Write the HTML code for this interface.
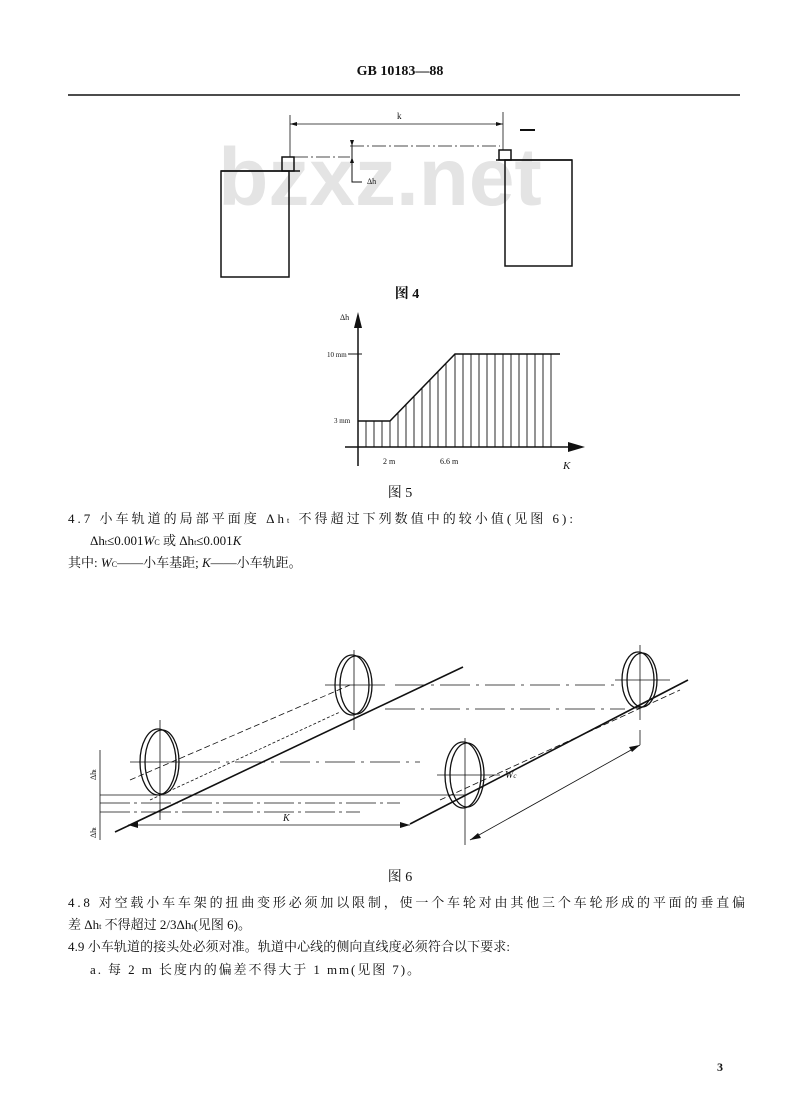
<!DOCTYPE html>
<html><head><meta charset="utf-8"><style>
html,body{margin:0;padding:0;background:#fff}
svg{display:block}
text{font-family:"Liberation Serif","Noto Serif CJK SC","Noto Sans CJK SC",serif;fill:#111}
</style></head><body>
<svg width="800" height="1098" viewBox="0 0 800 1098" xmlns="http://www.w3.org/2000/svg">
<rect width="800" height="1098" fill="#fff"/>
<text x="380" y="205" text-anchor="middle" font-weight="bold" font-size="82" style="fill:#e4e4e4;font-family:'Liberation Sans',sans-serif">bzxz.net</text>
<text x="400" y="75" text-anchor="middle" font-weight="bold" font-size="14">GB 10183—88</text>
<line x1="68" y1="95" x2="740" y2="95" stroke="#111" stroke-width="1.5"/>

<g stroke="#111" fill="none" stroke-width="1.5">
<rect x="221" y="171" width="68" height="106"/>
<rect x="282" y="157" width="12" height="14"/>
<line x1="221" y1="171" x2="300" y2="171"/>
<rect x="505" y="160" width="67" height="106"/>
<rect x="499" y="150" width="12" height="10"/>
<line x1="496" y1="160" x2="572" y2="160"/>
<line x1="290" y1="115" x2="290" y2="157" stroke-width="0.8"/>
<line x1="503" y1="112" x2="503" y2="150" stroke-width="0.8"/>
<line x1="290" y1="124" x2="503" y2="124" stroke-width="0.8"/>
<line x1="520" y1="130" x2="535" y2="130" stroke-width="2"/>
<line x1="294" y1="157" x2="350" y2="157" stroke-width="0.8" stroke-dasharray="14,3,2,3"/>
<line x1="350" y1="146" x2="500" y2="146" stroke-width="0.8" stroke-dasharray="14,3,2,3"/>
<polyline points="352,140 352,182 362,182" stroke-width="1"/>
</g>
<polygon points="290,124 297,122 297,126" fill="#111"/>
<polygon points="503,124 496,122 496,126" fill="#111"/>
<polygon points="352,146 350,140 354,140" fill="#111"/>
<polygon points="352,157 350,163 354,163" fill="#111"/>
<text x="397" y="119" font-size="9">k</text>
<text x="367" y="184" font-size="8">Δh</text>
<text x="407" y="298" text-anchor="middle" font-weight="bold" font-size="14">图 4</text>

<g stroke="#111" fill="none">
<line x1="358" y1="318" x2="358" y2="466" stroke-width="1.5"/>
<line x1="345" y1="447" x2="575" y2="447" stroke-width="1.5"/>
<polyline points="358,421 390,421 455,354 560,354" stroke-width="1.5"/>
<line x1="348" y1="354" x2="362" y2="354" stroke-width="1"/>
<g stroke-width="0.9">
<line x1="366" y1="421" x2="366" y2="447"/><line x1="374" y1="421" x2="374" y2="447"/><line x1="382" y1="421" x2="382" y2="447"/><line x1="390" y1="421" x2="390" y2="447"/>
<line x1="398" y1="413" x2="398" y2="447"/><line x1="406" y1="404" x2="406" y2="447"/><line x1="414" y1="396" x2="414" y2="447"/><line x1="422" y1="388" x2="422" y2="447"/>
<line x1="430" y1="380" x2="430" y2="447"/><line x1="438" y1="371" x2="438" y2="447"/><line x1="446" y1="363" x2="446" y2="447"/><line x1="455" y1="354" x2="455" y2="447"/>
<line x1="463" y1="354" x2="463" y2="447"/><line x1="471" y1="354" x2="471" y2="447"/><line x1="479" y1="354" x2="479" y2="447"/><line x1="487" y1="354" x2="487" y2="447"/>
<line x1="495" y1="354" x2="495" y2="447"/><line x1="503" y1="354" x2="503" y2="447"/><line x1="511" y1="354" x2="511" y2="447"/><line x1="519" y1="354" x2="519" y2="447"/>
<line x1="527" y1="354" x2="527" y2="447"/><line x1="535" y1="354" x2="535" y2="447"/><line x1="543" y1="354" x2="543" y2="447"/><line x1="551" y1="354" x2="551" y2="447"/>
</g>
</g>
<polygon points="358,312 354,328 362,328" fill="#111"/>
<polygon points="585,447 568,442 568,452" fill="#111"/>
<text x="340" y="320" font-size="8">Δh</text>
<text x="327" y="357" font-size="7">10 mm</text>
<text x="334" y="423" font-size="7">3 mm</text>
<text x="383" y="464" font-size="8">2 m</text>
<text x="440" y="464" font-size="8">6.6 m</text>
<text x="563" y="469" font-size="11" font-style="italic">K</text>
<text x="400" y="497" text-anchor="middle" font-size="14">图 5</text>

<text x="68" y="523" font-size="13" textLength="505">4.7  小车轨道的局部平面度 Δh<tspan font-size="8">t</tspan> 不得超过下列数值中的较小值(见图 6):</text>
<text x="90" y="545" font-size="13">Δh<tspan font-size="8">t</tspan>≤0.001<tspan font-style="italic">W</tspan><tspan font-size="8">C</tspan> 或 Δh<tspan font-size="8">t</tspan>≤0.001<tspan font-style="italic">K</tspan></text>
<text x="68" y="567" font-size="13">其中: <tspan font-style="italic">W</tspan><tspan font-size="8">C</tspan>——小车基距; <tspan font-style="italic">K</tspan>——小车轨距。</text>

<g stroke="#111" fill="none" stroke-width="1.3">
<line x1="115" y1="832" x2="463" y2="667" stroke-width="1.6"/>
<line x1="410" y1="824" x2="688" y2="680" stroke-width="1.6"/>
<ellipse cx="158" cy="762" rx="18" ry="33"/><ellipse cx="162" cy="762" rx="17" ry="32"/>
<ellipse cx="352" cy="685" rx="17" ry="30"/><ellipse cx="356" cy="685" rx="16" ry="29"/>
<ellipse cx="463" cy="775" rx="18" ry="33"/><ellipse cx="467" cy="775" rx="17" ry="32"/>
<ellipse cx="638" cy="680" rx="16" ry="28"/><ellipse cx="642" cy="680" rx="15" ry="27"/>
<g stroke-width="0.8">
<line x1="160" y1="720" x2="160" y2="820"/><line x1="130" y1="762" x2="190" y2="762"/>
<line x1="354" y1="650" x2="354" y2="730"/><line x1="325" y1="685" x2="385" y2="685"/>
<line x1="465" y1="738" x2="465" y2="845"/><line x1="437" y1="775" x2="500" y2="775"/>
<line x1="640" y1="645" x2="640" y2="720"/><line x1="615" y1="680" x2="670" y2="680"/>
<line x1="640" y1="730" x2="640" y2="745"/>
<line x1="100" y1="795" x2="465" y2="795"/>
<line x1="100" y1="803" x2="400" y2="803" stroke-dasharray="30,4,3,4"/>
<line x1="100" y1="812" x2="360" y2="812" stroke-dasharray="30,4,3,4"/>
<line x1="190" y1="762" x2="420" y2="762" stroke-dasharray="30,6,3,6"/>
<line x1="395" y1="685" x2="615" y2="685" stroke-dasharray="30,6,3,6"/>
<line x1="385" y1="709" x2="625" y2="709" stroke-dasharray="30,6,3,6"/>
<line x1="130" y1="780" x2="350" y2="685" stroke-dasharray="6,3"/>
<line x1="440" y1="800" x2="680" y2="690" stroke-dasharray="6,3"/>
<line x1="150" y1="800" x2="340" y2="712" stroke-dasharray="3,2"/>
<line x1="128" y1="825" x2="410" y2="825"/>
<line x1="470" y1="840" x2="640" y2="745"/>
<line x1="100" y1="750" x2="100" y2="840"/>
</g>
</g>
<polygon points="128,825 138,822 138,828" fill="#111"/>
<polygon points="410,825 400,822 400,828" fill="#111"/>
<polygon points="470,840 478,833 481,838" fill="#111"/>
<polygon points="640,745 632,752 629,747" fill="#111"/>
<text x="283" y="821" font-size="10" font-style="italic">K</text>
<text x="505" y="778" font-size="10" font-style="italic">W<tspan font-size="7">c</tspan></text>
<text transform="translate(96,780) rotate(-90)" font-size="8">Δh<tspan font-size="6">t</tspan></text>
<text transform="translate(96,838) rotate(-90)" font-size="8">Δh<tspan font-size="6">t</tspan></text>
<text x="400" y="881" text-anchor="middle" font-size="14">图 6</text>

<text x="68" y="907" font-size="13" textLength="677">4.8  对空载小车车架的扭曲变形必须加以限制，使一个车轮对由其他三个车轮形成的平面的垂直偏</text>
<text x="68" y="929" font-size="13">差 Δh<tspan font-size="8">t</tspan> 不得超过 2/3Δh<tspan font-size="8">t</tspan>(见图 6)。</text>
<text x="68" y="951" font-size="13" textLength="442">4.9  小车轨道的接头处必须对准。轨道中心线的侧向直线度必须符合以下要求:</text>
<text x="90" y="974" font-size="13" textLength="330">a.  每 2 m 长度内的偏差不得大于 1 mm(见图 7)。</text>
<text x="717" y="1071" font-size="12" font-weight="bold">3</text>
</svg>
</body></html>
